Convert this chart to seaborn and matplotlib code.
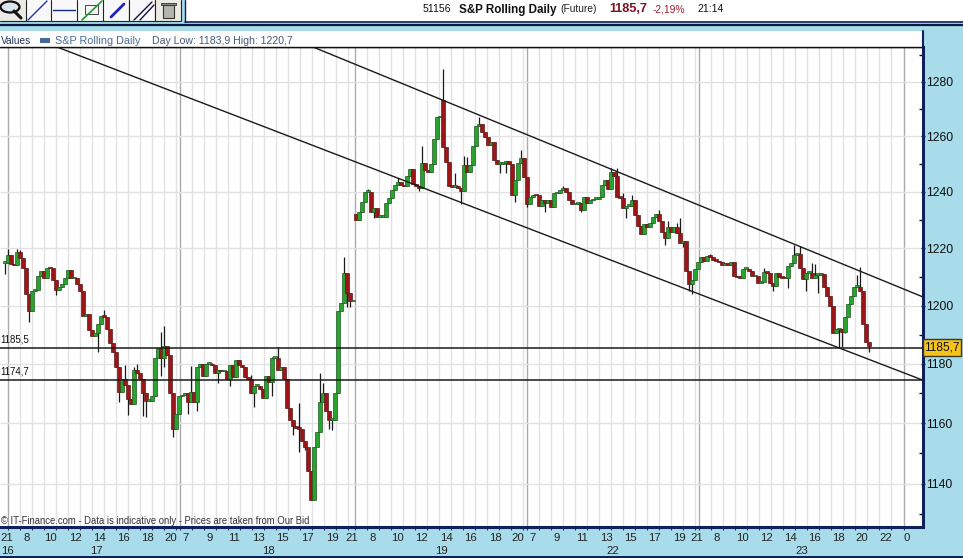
import matplotlib
matplotlib.use("Agg")
import matplotlib.pyplot as plt
from matplotlib.patches import Rectangle, Circle
from matplotlib.lines import Line2D
from matplotlib.ticker import FixedLocator, NullFormatter
from matplotlib.transforms import blended_transform_factory
import numpy as np
import pandas as pd
import seaborn as sns

# 15 min closes
closes = [
    1215, 1217.5, 1214.6, 1214, 1218.7, 1216.7, 1213, 1204, 1198, 1205,
    1205.5, 1210.3, 1212.2, 1209.5, 1213.2, 1213, 1209, 1205.5, 1206.5, 1207.5,
    1209.5, 1212.5, 1209.5, 1209.5, 1207.5, 1205, 1196.5, 1197, 1191.5, 1189.7,
    1190.5, 1193.5, 1196.3, 1196, 1192, 1187, 1184, 1179, 1170.5, 1175,
    1173, 1168, 1166.5, 1178, 1177, 1175, 1170, 1167.5, 1167.5, 1169,
    1182, 1185.5, 1182, 1186, 1183, 1170, 1158, 1163, 1169, 1169.5,
    1170, 1167, 1170.5, 1167, 1179, 1180, 1176, 1180, 1180, 1179.5,
    1177, 1178, 1177.5, 1177.5, 1175, 1179.5, 1175.5, 1181.5, 1179.5, 1179,
    1175.5, 1175, 1170, 1172.5, 1172.5, 1171.5, 1168.5, 1176, 1174, 1182,
    1182, 1178, 1179, 1175, 1165, 1161, 1159, 1158.5, 1158, 1154,
    1152, 1144, 1134.5, 1152, 1157, 1167, 1170, 1164, 1161, 1161,
    1170, 1198, 1201, 1211.5, 1204.5, 1201.5, 1201.5,
    1230, 1233, 1236.5, 1240, 1240, 1233, 1234.2, 1231, 1231, 1231,
    1236, 1237.7, 1240.7, 1242.5, 1243.4, 1242.5, 1242, 1245.6, 1248.3, 1243,
    1242, 1241.3, 1250.5, 1247.7, 1247.3, 1250, 1259.2, 1266.9, 1267, 1256,
    1250.8, 1242, 1241.8, 1242, 1241.3, 1240.2, 1249.7, 1247, 1249.5, 1256.4,
    1263.7, 1264.4, 1261.7, 1259.8, 1257, 1258, 1251.4, 1250, 1250, 1250.5,
    1251, 1250, 1239, 1244.4, 1250.3, 1252.2, 1245.5, 1235.8, 1238, 1239,
    1238.8, 1235, 1237, 1236, 1237, 1234.6, 1239.5, 1239.5, 1240.7, 1241.3,
    1240, 1237, 1235.6, 1235.7, 1236, 1233.6, 1238, 1236, 1237, 1237.5,
    1237.5, 1238, 1242.5, 1244.4, 1241, 1247.2, 1245.6, 1238.2, 1237.8, 1234.4,
    1235, 1235, 1237, 1231.6, 1227.9, 1225, 1228.4, 1227.5, 1229, 1231.1,
    1232.3, 1229.6, 1225.8, 1223.8, 1227.5, 1225.8, 1227.5, 1225.5, 1221.7, 1222.7,
    1212.2, 1207.5, 1209, 1212.7, 1215.3, 1216.8, 1215.7, 1217.4, 1217, 1215.8,
    1215.5, 1215.1, 1214.2, 1215, 1214.2, 1215.1, 1210.4, 1209.8, 1209.7, 1212.7,
    1212.8, 1212.2, 1210.2, 1210.2, 1208, 1208.2, 1211.6, 1211.5, 1208, 1206.9,
    1211.3, 1210, 1209.6, 1209.5, 1213.7, 1215, 1217.7, 1218, 1213, 1209.1,
    1211.3, 1211.5, 1209.5, 1210.6, 1210.6, 1210.9, 1206.3, 1203.3, 1199.7, 1190.6,
    1191.8, 1191.8, 1191, 1196.2, 1200.5, 1203.2, 1206.6, 1206.6, 1205.1, 1193.5,
    1187.4, 1186,
]
gap_opens = {0: 1214.8, 117: 1232, 146: 1273.2}

high_wicks = {
    1: 1219.6, 4: 1219.6, 5: 1219.4, 32: 1196, 33: 1198.5, 40: 1179.7, 43: 1179, 44: 1180,
    52: 1190.8, 53: 1193, 62: 1179.3, 69: 1180.4, 77: 1180.8, 82: 1176.3, 89: 1182.5,
    91: 1185.6, 98: 1166.7, 105: 1176.9, 106: 1173.5, 113: 1217, 121: 1241, 131: 1245,
    139: 1256.4, 146: 1284.8, 150: 1246.8, 153: 1253, 154: 1252.5, 158: 1267, 172: 1254.9,
    186: 1242.2, 202: 1248.7, 204: 1248.7, 206: 1239.5, 209: 1239, 218: 1233.6, 221: 1229.6,
    224: 1229, 225: 1230.8, 235: 1218, 253: 1213, 263: 1221, 265: 1220.7, 269: 1215,
    270: 1214.5, 284: 1210.5, 285: 1213.3,
}
low_wicks = {
    0: 1211, 8: 1194.4, 17: 1203.6, 31: 1184, 38: 1167, 41: 1162.6, 46: 1162.4, 47: 1162.2,
    52: 1176, 53: 1179, 56: 1155.4, 61: 1163, 64: 1164, 71: 1173.5, 75: 1172.4, 83: 1165.3,
    89: 1169, 95: 1162, 96: 1156, 98: 1150.5, 100: 1151, 104: 1154, 108: 1158, 109: 1157.6,
    114: 1199.4, 115: 1199.4, 123: 1230.6, 138: 1240.4, 152: 1235.6, 165: 1246.8, 167: 1246.8,
    170: 1236.5, 174: 1234.5, 180: 1233, 192: 1233, 207: 1230.8, 220: 1221, 226: 1220.3,
    228: 1205.2, 229: 1204.2, 256: 1205, 261: 1206, 267: 1205, 271: 1204.5, 278: 1185.4,
    279: 1185.7, 280: 1190.6, 288: 1184,
}

h_lines = [1185.5, 1174.7]
h_line_labels = ["1185,5", "1174,7"]
last_price = "1185,7"

# channel lines, bar position and price of both ends
lower_bars, lower_prices = [17.33, 305.67], [1292.9, 1174.6]
upper_bars, upper_prices = [102.67, 306], [1292.9, 1203]

y_major = [1140, 1160, 1180, 1200, 1220, 1240, 1260, 1280]
y_minor = [1130, 1150, 1170, 1190, 1210, 1230, 1250, 1270, 1290]

hour_labels = ["21", "8", "10", "12", "14", "16", "18", "20", "7", "9", "11", "13", "15", "17", "19", "21",
               "8", "10", "12", "14", "16", "18", "20", "7", "9", "11", "13", "15", "17", "19", "21",
               "8", "10", "12", "14", "16", "18", "20", "22", "0"]
hour_px = [6.5, 26.7, 50.7, 75, 99, 123, 147, 171, 186, 210, 234, 258, 282, 307, 332, 352,
           373, 397, 421, 446, 470, 495, 518, 533, 557, 582, 606, 630, 654, 679, 697,
           717, 742, 766, 790, 814, 838, 862, 886, 907]
day_labels = ["16", "17", "18", "19", "22", "23"]
day_px = [7, 96, 268, 441, 613, 802]
session_px = [8.3, 180.3, 355.3, 527.3, 699.3, 904.3]

W, H = 963, 558
PANEL = "#A8DCEA"
NAVY = "#10205A"
GREEN, RED = "#27A32E", "#9E1518"
FONT = "Liberation Sans"

sns.set_theme(style="white", rc={"axes.grid": False})
plt.rcParams["font.family"] = [FONT, "DejaVu Sans"]

fig = plt.figure(figsize=(W / 100, H / 100), dpi=100, facecolor=PANEL)


def to_bar(x):
    return (np.asarray(x, dtype=float) - 5) / 3


def box(x0, y0, x1, y1, **kw):
    # rectangle in picture pixels, y down
    kw.setdefault("lw", 0)
    fig.add_artist(Rectangle((x0 / W, 1 - y1 / H), (x1 - x0) / W, (y1 - y0) / H,
                             transform=fig.transFigure, **kw))


def seg(x0, y0, x1, y1, color="k", lw=1.0):
    fig.add_artist(Line2D([x0 / W, x1 / W], [1 - y0 / H, 1 - y1 / H],
                          transform=fig.transFigure, color=color, lw=lw))


def label(x, y, s, **kw):
    kw.setdefault("va", "center")
    kw.setdefault("fontsize", 7.6)
    fig.text(x / W, 1 - y / H, s, **kw)


ax = fig.add_axes([0, 1 - 527 / H, 923 / W, 480 / H])
ax.set_yscale("log")
ax.set_ylim(1125.8, 1292.9)
ax.set_xlim(to_bar(0), to_bar(923))

# grid
grid_px = []
for start, stop in zip(session_px[:-1], session_px[1:]):
    grid_px += list(np.arange(start + 12, stop - 3, 12))
ax.set_xticks(to_bar(grid_px + session_px), minor=True)
ax.vlines(to_bar(grid_px), 0, 1, transform=ax.get_xaxis_transform(), color="#E2E2E2", lw=1, zorder=0)
ax.vlines(to_bar(session_px), 0, 1, transform=ax.get_xaxis_transform(), color="#ABABAB", lw=1, zorder=0)
ax.hlines(y_major, 0, 1, transform=ax.get_yaxis_transform(), color="#E2E2E2", lw=1, zorder=0)

# candles
df = pd.DataFrame({"bar": np.arange(len(closes)), "close": closes})
df["open"] = df["close"].shift(1)
for i, v in gap_opens.items():
    df.loc[i, "open"] = v
df["top"] = df[["open", "close"]].max(axis=1)
df["bottom"] = df[["open", "close"]].min(axis=1)
df["high"] = df["top"]
df["low"] = df["bottom"]
for i, v in high_wicks.items():
    df.loc[i, "high"] = v
for i, v in low_wicks.items():
    df.loc[i, "low"] = v
df["up"] = df["close"] >= df["open"]

ax.vlines(df["bar"], df["low"], df["high"], color="#1a1a1a", lw=0.9, zorder=2)
ax.bar(df["bar"], (df["top"] - df["bottom"]).clip(lower=0.6), bottom=df["bottom"], width=1.2,
       color=np.where(df["up"], GREEN, RED),
       edgecolor=np.where(df["up"], "#1E5A22", "#5A1A1A"), lw=0.5, zorder=3)

# channel and level lines
sns.lineplot(x=lower_bars, y=lower_prices, ax=ax, color="k", lw=1, zorder=4, estimator=None)
sns.lineplot(x=upper_bars, y=upper_prices, ax=ax, color="k", lw=1, zorder=4, estimator=None)
for v in h_lines:
    ax.axhline(v, color="k", lw=1.1, zorder=4)
tr = blended_transform_factory(ax.transAxes, ax.transData)
for v, s in zip(h_lines, h_line_labels):
    ax.annotate(s, (0, v), xycoords=tr, xytext=(0, 2.5), textcoords="offset points",
                fontsize=7, color="#111111", va="bottom", ha="left")

# axes
ax.spines["left"].set_visible(False)
ax.spines["top"].set_color("#111111")
ax.spines["top"].set_linewidth(1)
for name in ["right", "bottom"]:
    ax.spines[name].set_color(NAVY)
    ax.spines[name].set_linewidth(2.2)

ax.yaxis.tick_right()
ax.yaxis.set_major_locator(FixedLocator(y_major))
ax.yaxis.set_minor_locator(FixedLocator(y_minor))
ax.yaxis.set_major_formatter(plt.FixedFormatter([str(v) for v in y_major]))
ax.yaxis.set_minor_formatter(NullFormatter())
ax.tick_params(axis="y", which="major", right=True, length=3, width=1, direction="inout",
               pad=0.5, labelsize=8.8, colors="#111111")
ax.tick_params(axis="y", which="minor", right=True, length=3, width=1, direction="in", color="#111111")
ax.tick_params(axis="x", which="minor", bottom=True, length=2.5, width=0.8, direction="out", color="#333333")

ax.set_xticks(to_bar(hour_px), hour_labels)
ax.tick_params(axis="x", which="major", bottom=False, length=0, pad=4, labelsize=8.2, labelcolor="#222222")
ax.set_ylabel("")

xtr = blended_transform_factory(ax.transData, fig.transFigure)
for x, s in zip(to_bar(day_px), day_labels):
    ax.text(x, 1 - 551 / H, s, transform=xtr, fontsize=8.2, color="#222222", ha="center", va="center",
            clip_on=False)

box(923, 339, 961, 356, facecolor="#F6C21C", edgecolor="#3A3A20", lw=1, zorder=10)
label(942, 347.5, last_price, ha="center", fontsize=8.6, color="#111111", zorder=11)

label(1, 521, "\u00a9 IT-Finance.com - Data is indicative only - Prices are taken from Our Bid",
      fontsize=6.85, color="#333333", zorder=5)

# legend strip
box(0, 31, 923, 47, facecolor="white")
seg(0, 47, 923, 47, color="#111111", lw=1)
seg(923, 31, 923, 47, color=NAVY, lw=1.5)
label(0.5, 40.5, "Values", fontsize=7.3, color="#22355A")
box(40, 38, 50, 43, facecolor="#46689A")
label(55, 40.5, "S&P Rolling Daily", fontsize=7.8, color="#4A6A96")
label(152, 40.5, "Day Low: 1183,9 High: 1220,7", fontsize=7.55, color="#44597A")

# header
box(0, 0, 963, 22, facecolor="white")
box(0, 0, 181, 21, facecolor="#ECEAE4")
box(181, 0, 185, 22, facecolor=PANEL)
seg(185, 0, 185, 22, color=NAVY, lw=1)
seg(185, 21.5, 963, 21.5, color=NAVY, lw=1.2)
seg(0, 24.5, 963, 24.5, color="#0A1A40", lw=1.6)
box(0, 25.5, 963, 31, facecolor=PANEL)
for bx in [25.5, 51, 77, 103, 128.5, 154.5, 180.5]:
    seg(bx, 0, bx, 21, color="#222222", lw=0.8)
seg(0, 21, 180, 21, color="#222222", lw=0.8)
for bx0, bx1 in [(26, 51), (52, 77), (78, 103), (104, 128), (129, 154)]:
    box(bx0, 0, bx1, 20.5, facecolor="#F8F8F8")
fig.add_artist(Circle((10 / W, 1 - 7 / H), 5.5 / H, transform=fig.transFigure, fc="#DDE6EE", ec="#111111", lw=1.6))
seg(14, 11, 21, 18, color="#111111", lw=2.2)
seg(28, 20, 47, 1, color="#2233AA", lw=1)
seg(53, 10, 75, 10, color="#1A2A88", lw=1)
seg(82, 20, 102, 1, color="#1F9A2A", lw=1.2)
box(85, 5, 98, 14, facecolor="none", edgecolor="#444444", lw=0.7)
seg(111, 17, 124, 4, color="#2222BB", lw=2)
seg(134, 20, 152, 2, color="#111144", lw=1)
seg(140, 20, 154, 5, color="#111144", lw=1)
box(163, 5, 174, 18, facecolor="#B5B5B0", edgecolor="#333333", lw=0.8)
box(161, 3, 176, 5, facecolor="#888888", edgecolor="#333333", lw=0.6)

label(423, 9.5, "51156", fontsize=7.6, color="#111111")
label(459, 9.5, "S&P Rolling Daily", fontsize=8.4, fontweight="bold", color="#111111")
label(560, 9.5, "(Future)", fontsize=7.4, color="#222222")
label(609, 9.5, "1185,7", fontsize=9.2, fontweight="bold", color="#7C1020")
label(653, 9.5, "-2,19%", fontsize=7.4, color="#A01C28")
label(697, 9.5, "21:14", fontsize=7.6, color="#111111")

box(0, 556, 963, 558, facecolor=NAVY)

fig.savefig("out.png", dpi=100, facecolor=fig.get_facecolor())
